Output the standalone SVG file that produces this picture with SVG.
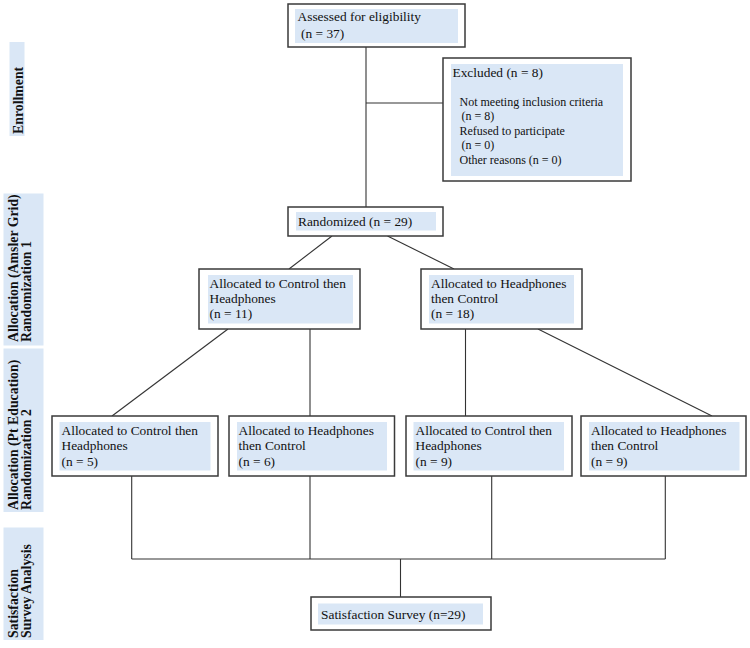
<svg xmlns="http://www.w3.org/2000/svg" width="750" height="648" viewBox="0 0 750 648">
<style>
.box{fill:#ffffff;stroke:#3a3a3a;stroke-width:1.5}
.fill{fill:#dae7f6;stroke:none}
.band{fill:#dae7f6;stroke:none}
.t{font-family:"Liberation Serif","Times New Roman",serif;font-size:13.4px;fill:#111}
.ts{font-family:"Liberation Serif","Times New Roman",serif;font-size:12px;fill:#111}
.side{font-family:"Liberation Serif","Times New Roman",serif;font-size:13.8px;font-weight:bold;fill:#111}
.c{stroke:#333;stroke-width:1.1;fill:none}
</style>
<rect width="750" height="648" fill="#ffffff"/>
<g id="side-labels">
<g id="band-enrollment"><rect class="band" x="9.5" y="42" width="15" height="94"/><text class="side" transform="translate(22.5,134) rotate(-90)">Enrollment</text></g>
<g id="band-alloc1"><rect class="band" x="3.5" y="193.5" width="40" height="152"/><text class="side" transform="translate(17.5,342) rotate(-90)">Allocation (Amsler Grid)</text><text class="side" transform="translate(31,342) rotate(-90)">Randomization 1</text></g>
<g id="band-alloc2"><rect class="band" x="3.5" y="348.5" width="40" height="163.5"/><text class="side" transform="translate(17.5,510) rotate(-90)">Allocation (Pt Education)</text><text class="side" transform="translate(31,510) rotate(-90)">Randomization 2</text></g>
<g id="band-survey"><rect class="band" x="3.5" y="527.5" width="40" height="112.5"/><text class="side" transform="translate(17.5,638) rotate(-90)">Satisfaction</text><text class="side" transform="translate(31,638) rotate(-90)">Survey Analysis</text></g>
</g>
<g id="connectors">
<line class="c" x1="366" y1="47" x2="366" y2="207"/>
<line class="c" x1="366" y1="103" x2="443" y2="103"/>
<line class="c" x1="332" y1="236" x2="289" y2="269"/>
<line class="c" x1="387.5" y1="236" x2="454" y2="269"/>
<line class="c" x1="228" y1="329" x2="112" y2="416"/>
<line class="c" x1="310" y1="329" x2="310" y2="416"/>
<line class="c" x1="465.5" y1="329" x2="465.5" y2="416"/>
<line class="c" x1="538" y1="329" x2="712" y2="416"/>
<line class="c" x1="131.7" y1="476" x2="131.7" y2="559"/>
<line class="c" x1="310" y1="476" x2="310" y2="559"/>
<line class="c" x1="491.7" y1="476" x2="491.7" y2="559"/>
<line class="c" x1="665.3" y1="476" x2="665.3" y2="559"/>
<line class="c" x1="131.7" y1="559" x2="665.3" y2="559"/>
<line class="c" x1="400.5" y1="559" x2="400.5" y2="597"/>
</g>
<g id="assessed">
<rect class="box" x="288" y="4" width="177" height="43"/>
<rect class="fill" x="295" y="9" width="163" height="34"/>
<text class="t" x="297.5" y="21">Assessed for eligibility</text>
<text class="t" x="301" y="37.5">(n = 37)</text>
</g>
<g id="excluded">
<rect class="box" x="443" y="58" width="188" height="123"/>
<rect class="fill" x="451" y="64" width="172" height="112"/>
<text class="t" x="452.5" y="77">Excluded (n = 8)</text>
<text class="ts" x="459.5" y="105.5">Not meeting inclusion criteria</text>
<text class="ts" x="461.5" y="120">(n = 8)</text>
<text class="ts" x="459.5" y="134.5">Refused to participate</text>
<text class="ts" x="461.5" y="149">(n = 0)</text>
<text class="ts" x="459.5" y="163.5">Other reasons (n = 0)</text>
</g>
<g id="randomized">
<rect class="box" x="288" y="207" width="155" height="29"/>
<rect class="fill" x="296" y="212" width="140" height="18.5"/>
<text class="t" x="298" y="226">Randomized (n = 29)</text>
</g>
<g id="alloc-control-headphones">
<rect class="box" x="199" y="269" width="161" height="60"/>
<rect class="fill" x="208" y="275" width="145" height="48.5"/>
<text class="t" x="209.5" y="287.5">Allocated to Control then</text>
<text class="t" x="209.5" y="302.5">Headphones</text>
<text class="t" x="209.5" y="318">(n = 11)</text>
</g>
<g id="alloc-headphones-control">
<rect class="box" x="421" y="269" width="161" height="60"/>
<rect class="fill" x="429" y="275" width="145" height="48.5"/>
<text class="t" x="431" y="287.5">Allocated to Headphones</text>
<text class="t" x="431" y="302.5">then Control</text>
<text class="t" x="431" y="318">(n = 18)</text>
</g>
<g id="r2-box1">
<rect class="box" x="52" y="416" width="166" height="60"/>
<rect class="fill" x="59.5" y="422" width="151" height="48.5"/>
<text class="t" x="61.5" y="434.5">Allocated to Control then</text>
<text class="t" x="61.5" y="450">Headphones</text>
<text class="t" x="61.5" y="465.5">(n = 5)</text>
</g>
<g id="r2-box2">
<rect class="box" x="229" y="416" width="165.5" height="60"/>
<rect class="fill" x="237" y="422" width="150" height="48.5"/>
<text class="t" x="238.5" y="434.5">Allocated to Headphones</text>
<text class="t" x="238.5" y="450">then Control</text>
<text class="t" x="238.5" y="465.5">(n = 6)</text>
</g>
<g id="r2-box3">
<rect class="box" x="406" y="416" width="166" height="60"/>
<rect class="fill" x="413.5" y="422" width="150.5" height="48.5"/>
<text class="t" x="415.5" y="434.5">Allocated to Control then</text>
<text class="t" x="415.5" y="450">Headphones</text>
<text class="t" x="415.5" y="465.5">(n = 9)</text>
</g>
<g id="r2-box4">
<rect class="box" x="581" y="416" width="165" height="60"/>
<rect class="fill" x="589" y="422" width="150.5" height="48.5"/>
<text class="t" x="591" y="434.5">Allocated to Headphones</text>
<text class="t" x="591" y="450">then Control</text>
<text class="t" x="591" y="465.5">(n = 9)</text>
</g>
<g id="survey">
<rect class="box" x="311" y="597" width="180" height="33"/>
<rect class="fill" x="318" y="603.5" width="165" height="21"/>
<text class="t" x="321" y="618.5">Satisfaction Survey (n=29)</text>
</g>
</svg>
